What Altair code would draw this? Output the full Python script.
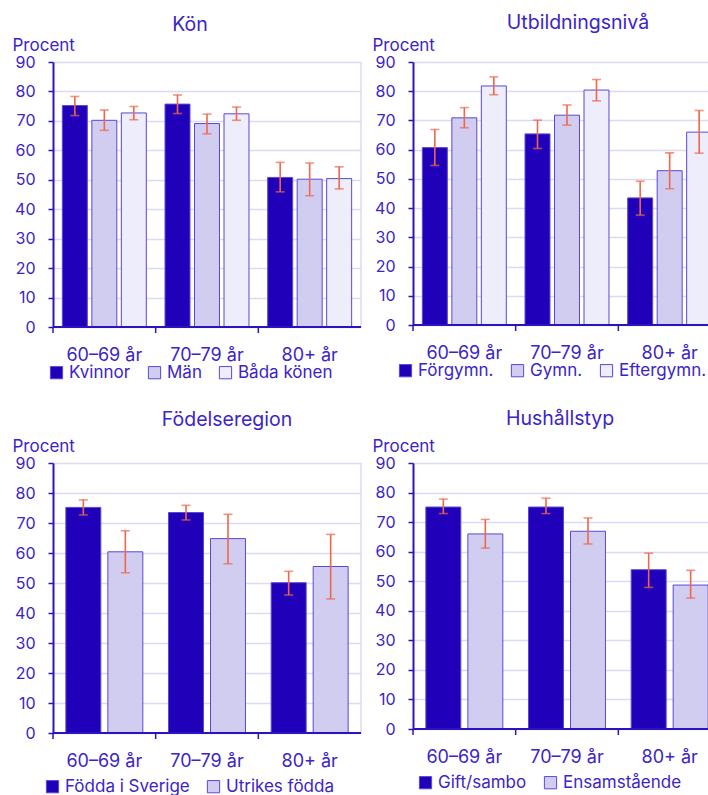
import altair as alt
import pandas as pd

# Age groups on the x axis
ages = ["60–69 år", "70–79 år", "80+ år"]

# Kön: share (percent) per group, one list per age group, with 95 % interval bounds
kon_groups = ["Kvinnor", "Män", "Båda könen"]
kon_values = [[75.2, 70.2, 72.7], [75.7, 69.1, 72.4], [50.8, 50.2, 50.4]]
kon_low = [[71.8, 66.8, 70.4], [72.5, 65.6, 70.2], [45.9, 44.6, 46.9]]
kon_high = [[78.3, 73.7, 74.9], [78.8, 72.3, 74.7], [55.9, 55.7, 54.4]]

# Utbildningsnivå
utb_groups = ["Förgymn.", "Gymn.", "Eftergymn."]
utb_values = [[60.7, 70.9, 81.8], [65.4, 71.8, 80.4], [43.5, 52.8, 66.0]]
utb_low = [[54.6, 67.5, 78.8], [60.4, 68.4, 76.7], [37.6, 46.6, 58.8]]
utb_high = [[66.9, 74.4, 84.9], [70.1, 75.3, 84.0], [49.2, 58.9, 73.4]]

# Födelseregion
fod_groups = ["Födda i Sverige", "Utrikes födda"]
fod_values = [[75.2, 60.4], [73.5, 64.8], [50.1, 55.5]]
fod_low = [[72.7, 53.4], [71.0, 56.4], [46.0, 44.7]]
fod_high = [[77.7, 67.4], [75.9, 72.9], [53.9, 66.2]]

# Hushållstyp
hus_groups = ["Gift/sambo", "Ensamstående"]
hus_values = [[75.1, 66.0], [75.1, 66.9], [53.9, 48.7]]
hus_low = [[72.9, 61.2], [72.9, 62.6], [47.9, 44.3]]
hus_high = [[77.8, 70.9], [78.1, 71.4], [59.5, 53.7]]

DARK = "#2000b8"
MID = "#d1cdf0"
LIGHT = "#ededfc"
BAR_STROKE = "#5a48d6"
ERR = "#f0664a"
TEXT = "#3b24c8"
GRID = "#dcdaf3"
AXIS = "#2a14c0"
FONT = "Inter"
PALETTE = [DARK, MID, LIGHT]

# Fixed page size; the first panel's plot origin sits at (PAD_LEFT, PAD_TOP)
PAGE_W, PAGE_H = 708, 795
PAD_LEFT, PAD_TOP = 53, 62


def panel(title, title_dx, title_offset, groups, values, low, high,
          width, height, legend_x, legend_y, right_border):
    rows = []
    for ai, age in enumerate(ages):
        for gi, g in enumerate(groups):
            rows.append({"age": age, "grupp": g, "value": values[ai][gi],
                         "lo": low[ai][gi], "hi": high[ai][gi]})
    df = pd.DataFrame(rows)
    base = alt.Chart(df)

    n = len(groups)
    if n == 3:
        pin, pout = 0.153, 0.317
    else:
        pin, pout = 0.167, 0.306

    xscale = alt.Scale(domain=ages, paddingInner=0, paddingOuter=0)
    xaxis = alt.Axis(title=None, domain=False, ticks=False, grid=False, labelAngle=0,
                     labelFontSize=18, labelColor=TEXT, labelFont=FONT, labelPadding=19)
    x = alt.X("age:N", sort=ages, scale=xscale, axis=xaxis)
    xoff = alt.XOffset("grupp:N", sort=groups,
                       scale=alt.Scale(domain=groups, paddingInner=pin, paddingOuter=pout))
    yscale = alt.Scale(domain=[0, 90], nice=False)
    yaxis = alt.Axis(title="Procent", titleAngle=0, titleAlign="left", titleBaseline="alphabetic",
                     titleX=-41, titleY=-12, titleFontSize=17, titleFontWeight="normal",
                     titleColor=TEXT, titleFont=FONT,
                     values=list(range(0, 91, 10)), labelFontSize=16, labelColor=TEXT,
                     labelFont=FONT, labelPadding=13,
                     domainColor=AXIS, domainWidth=2, tickColor=AXIS, tickSize=5, tickWidth=1.5,
                     gridColor=GRID, gridWidth=1.5)

    bars = base.mark_bar(stroke=BAR_STROKE, strokeWidth=1).encode(
        x=x, xOffset=xoff,
        y=alt.Y("value:Q", scale=yscale, axis=yaxis),
        color=alt.Color("grupp:N", sort=groups,
                        scale=alt.Scale(domain=groups, range=PALETTE[:n]),
                        legend=alt.Legend(orient="none", legendX=legend_x, legendY=legend_y,
                                          direction="horizontal", title=None, symbolType="square",
                                          symbolSize=150, symbolStrokeColor=BAR_STROKE,
                                          symbolStrokeWidth=1, labelFontSize=17,
                                          labelColor=TEXT, labelFont=FONT, labelOffset=4,
                                          columnPadding=15, padding=0)),
    )
    stems = base.mark_rule(color=ERR, strokeWidth=1.6).encode(
        x=x, xOffset=xoff,
        y=alt.Y("lo:Q", scale=yscale, axis=yaxis), y2="hi:Q",
    )
    cap_lo = base.mark_tick(color=ERR, size=9, thickness=1.6).encode(
        x=x, xOffset=xoff, y=alt.Y("lo:Q", scale=yscale, axis=yaxis))
    cap_hi = base.mark_tick(color=ERR, size=9, thickness=1.6).encode(
        x=x, xOffset=xoff, y=alt.Y("hi:Q", scale=yscale, axis=yaxis))

    age_df = pd.DataFrame({"age": ages})
    xticks = alt.Chart(age_df).mark_rule(color=AXIS, strokeWidth=1.5).encode(
        x=alt.X("age:N", sort=ages, scale=xscale, axis=xaxis, bandPosition=0),
        y=alt.value(height), y2=alt.value(height + 6),
    )
    one = alt.Chart(pd.DataFrame({"k": [0]}))
    baseline = one.mark_rule(color=AXIS, strokeWidth=2).encode(
        x=alt.value(0), x2=alt.value(width), y=alt.value(height))

    layers = [bars, stems, cap_lo, cap_hi, xticks, baseline]
    if right_border:
        border = one.mark_rule(color=GRID, strokeWidth=1.5).encode(
            x=alt.value(width), y=alt.value(0), y2=alt.value(height))
        layers.insert(0, border)

    return alt.layer(*layers).properties(
        width=width, height=height,
        title=alt.TitleParams(title, fontSize=19.5, fontWeight="normal", color=TEXT, font=FONT,
                              anchor="middle", frame="group", dx=title_dx, offset=title_offset),
    )


# The right-hand panels run past the page edge; the page cuts them off there.
p1 = panel("Kön", -17, 1, kon_groups, kon_values, kon_low, kon_high,
           308, 265, -5, 302, True)
p2 = panel("Utbildningsnivå", 11, 3, utb_groups, utb_values, utb_low, utb_high,
           308, 263, -16, 300, False)
p3 = panel("Födelseregion", 20, 7, fod_groups, fod_values, fod_low, fod_high,
           308, 270, -9, 315, True)
p4 = panel("Hushållstyp", -7, 8, hus_groups, hus_values, hus_low, hus_high,
           308, 266, 4, 311, False)

top = alt.hconcat(p1, p2, spacing=10).resolve_scale(color="independent", x="independent",
                                                    y="independent", xOffset="independent")
bottom = alt.hconcat(p3, p4, spacing=10).resolve_scale(color="independent", x="independent",
                                                       y="independent", xOffset="independent")

chart = alt.vconcat(top, bottom, spacing=27).resolve_scale(
    color="independent", x="independent", y="independent", xOffset="independent"
).properties(
    autosize=alt.AutoSizeParams(type="none"),
    padding={"left": PAD_LEFT, "top": PAD_TOP,
             "right": PAGE_W - PAD_LEFT, "bottom": PAGE_H - PAD_TOP},
    background="white",
).configure_view(stroke=None)

chart.save("out.html", embed_options={"renderer": "svg", "actions": False})
